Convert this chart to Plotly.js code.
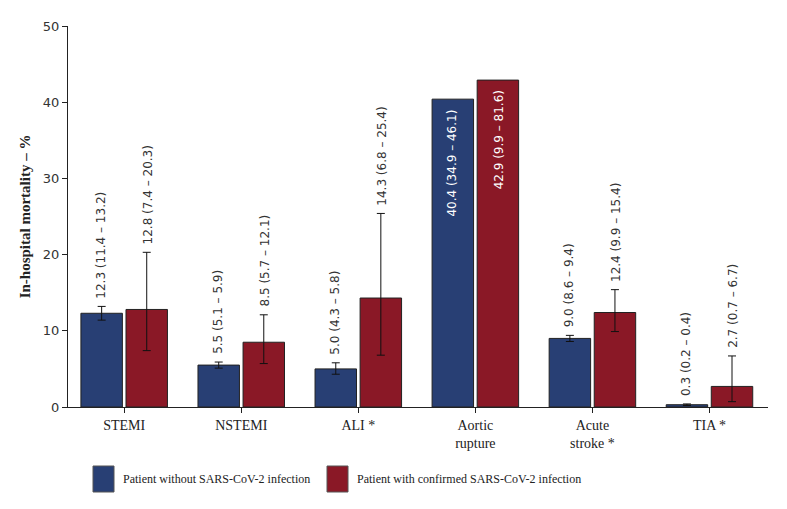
<!DOCTYPE html>
<html><head><meta charset="utf-8">
<script src="https://cdn.plot.ly/plotly-3.0.1.min.js"></script>
<style>body{margin:0;background:#fff}#chart{width:787px;height:509px}</style>
</head><body><div id="chart"></div>
<script>
const categories = ["STEMI","NSTEMI","ALI *","Aortic<br>rupture","Acute<br>stroke *","TIA *"];
const withoutVal = [12.3, 5.5, 5.0, 40.4, 9.0, 0.3];
const withoutLo  = [11.4, 5.1, 4.3, 34.9, 8.6, 0.2];
const withoutHi  = [13.2, 5.9, 5.8, 46.1, 9.4, 0.4];
const withVal = [12.8, 8.5, 14.3, 42.9, 12.4, 2.7];
const withLo  = [7.4, 5.7, 6.8, 9.9, 9.9, 0.7];
const withHi  = [20.3, 12.1, 25.4, 81.6, 15.4, 6.7];
const showErr = [true, true, true, false, true, true];
const seriesNames = ["Patient without SARS-CoV-2 infection","Patient with confirmed SARS-CoV-2 infection"];
const colors = ["#283f74","#8a1826"];

function errPlus(v, hi){ return v.map((x,i)=> showErr[i] ? +(hi[i]-x).toFixed(2) : NaN); }
function errMinus(v, lo){ return v.map((x,i)=> showErr[i] ? +(x-lo[i]).toFixed(2) : NaN); }

const traces = [
  {type:'bar', name:seriesNames[0], x:categories, y:withoutVal,
   marker:{color:colors[0], line:{color:'#222', width:1}},
   error_y:{type:'data', symmetric:false, array:errPlus(withoutVal,withoutHi), arrayminus:errMinus(withoutVal,withoutLo), color:'#111', thickness:1, width:4}},
  {type:'bar', name:seriesNames[1], x:categories, y:withVal,
   marker:{color:colors[1], line:{color:'#222', width:1}},
   error_y:{type:'data', symmetric:false, array:errPlus(withVal,withHi), arrayminus:errMinus(withVal,withLo), color:'#111', thickness:1, width:4}}
];

const fmt = (v,lo,hi)=> v.toFixed(1)+" ("+lo.toFixed(1)+" – "+hi.toFixed(1)+")";
const annotations = [];
const off = 0.2;
[[withoutVal,withoutLo,withoutHi,-off],[withVal,withLo,withHi,off]].forEach(([v,lo,hi,o])=>{
  v.forEach((val,i)=>{
    const inside = !showErr[i];
    annotations.push({
      x:i+o, y: inside ? val : hi[i], xref:'x', yref:'y',
      text: fmt(val,lo[i],hi[i]), textangle:-90, showarrow:false,
      xanchor:'center', yanchor: inside ? 'top' : 'bottom', yshift: inside ? -8 : 6,
      font:{family:'DejaVu Sans', size:12, color: inside ? '#ffffff' : '#333333'}
    });
  });
});
// custom legend
const shapes = [];
const legX = [93, 327];
legX.forEach((lx,k)=>{
  shapes.push({type:'rect', xref:'paper', yref:'paper',
    x0:(lx-68)/700, x1:(lx-68+21)/700, y0:(407-466)/381, y1:(407-492)/381,
    fillcolor:colors[k], line:{color:'#555', width:1}});
  annotations.push({xref:'paper', yref:'paper', x:(lx-68+28)/700, y:(407-479)/381,
    xanchor:'left', yanchor:'middle', showarrow:false, text:seriesNames[k],
    font:{family:'Liberation Serif', size:12, color:'#222'}});
});

const layout = {
  width:787, height:509,
  margin:{l:68, r:19, t:26, b:102},
  paper_bgcolor:'#fff', plot_bgcolor:'#fff',
  barmode:'group', bargap:0.23, bargroupgap:0.08,
  showlegend:false,
  xaxis:{type:'category', range:[-0.48,5.5], showline:true, linecolor:'#222', linewidth:1,
    ticks:'outside', ticklen:5, tickcolor:'#222', showgrid:false, zeroline:false,
    tickfont:{family:'Liberation Serif', size:14, color:'#222'}},
  yaxis:{range:[0,50], dtick:10, showline:true, linecolor:'#222', linewidth:1,
    ticks:'outside', ticklen:5, tickcolor:'#222', showgrid:false, zeroline:false,
    tickfont:{family:'DejaVu Sans', size:13, color:'#333'},
    title:{text:'<b>In-hospital mortality – %</b>', standoff:8, font:{family:'Liberation Serif', size:15, color:'#222'}}},
  annotations:annotations, shapes:shapes
};
Plotly.newPlot('chart', traces, layout, {displayModeBar:false, staticPlot:true});
</script></body></html>
